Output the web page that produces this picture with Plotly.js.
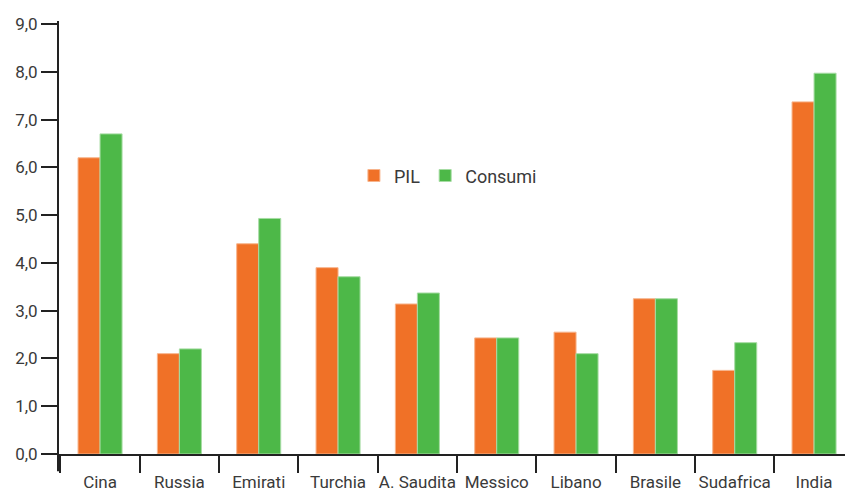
<!DOCTYPE html>
<html>
<head>
<meta charset="utf-8">
<script src="https://cdn.plot.ly/plotly-3.0.1.min.js"></script>
<style>html,body{margin:0;padding:0;background:#fff;}#chart{width:845px;height:494px;}</style>
</head>
<body>
<div id="chart"></div>
<script>
const categories = ["Cina", "Russia", "Emirati", "Turchia", "A. Saudita", "Messico", "Libano", "Brasile", "Sudafrica", "India"];
const pil = [6.2, 2.1, 4.4, 3.9, 3.14, 2.43, 2.55, 3.25, 1.75, 7.37];
const consumi = [6.7, 2.2, 4.93, 3.71, 3.37, 2.43, 2.1, 3.25, 2.33, 7.97];
const yTicks = [0, 1, 2, 3, 4, 5, 6, 7, 8, 9];

const FONT = "Roboto, 'DejaVu Sans', sans-serif";
const TEXT = "#3a3a3a";
const AX = "#222";

const traces = [
  {type: "bar", name: "PIL", x: categories, y: pil,
   marker: {color: "#F07127", line: {color: "#f7b48c", width: 1}}},
  {type: "bar", name: "Consumi", x: categories, y: consumi,
   marker: {color: "#4DB848", line: {color: "#a6dca3", width: 1}}}
];

const layout = {
  width: 845, height: 494,
  margin: {l: 58, r: 0, t: 24, b: 40},
  paper_bgcolor: "#fff", plot_bgcolor: "#fff",
  barmode: "group", bargap: 0.445, bargroupgap: 0,
  separators: ",.",
  font: {family: FONT, size: 16, color: TEXT},
  showlegend: true,
  legend: {orientation: "h", x: 0.376, y: 0.69, xanchor: "left", yanchor: "top",
           font: {family: FONT, size: 18, color: TEXT}, bgcolor: "rgba(0,0,0,0)",
           itemwidth: 30},
  xaxis: {type: "category", range: [-0.53, 9.39], showline: true, linecolor: AX, linewidth: 2,
          ticks: "outside", ticklen: 17, tickwidth: 2, tickcolor: AX, tickson: "boundaries",
          ticklabelstandoff: 12, tickangle: 0, showgrid: false, zeroline: false,
          tickfont: {family: FONT, size: 17, color: TEXT}},
  yaxis: {range: [0, 9], tickvals: yTicks, tickformat: ".1f", showline: false,
          ticks: "outside", ticklen: 16, tickwidth: 2, tickcolor: AX,
          showgrid: false, zeroline: false, tickfont: {family: FONT, size: 17, color: TEXT}},
  shapes: [
    {type: "line", xref: "paper", yref: "paper", x0: 0, x1: 0, y0: -0.04, y1: 1.007,
     line: {color: AX, width: 2}}
  ]
};

Plotly.newPlot("chart", traces, layout, {staticPlot: true, displayModeBar: false});
</script>
</body>
</html>
